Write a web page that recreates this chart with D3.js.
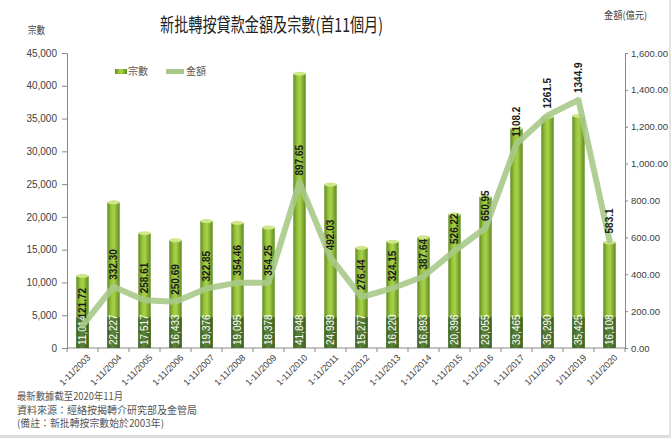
<!DOCTYPE html>
<html><head><meta charset="utf-8">
<script src="https://cdn.jsdelivr.net/npm/d3@7"></script>
<style>
html,body{margin:0;padding:0;background:#fff;}
svg{display:block;font-family:"Liberation Sans","DejaVu Sans",sans-serif;}
</style></head><body>
<script>
const categories = ["1-11/2003","1-11/2004","1-11/2005","1-11/2006","1-11/2007","1-11/2008","1-11/2009","1-11/2010","1-11/2011","1-11/2012","1-11/2013","1-11/2014","1-11/2015","1-11/2016","1-11/2017","1/11/2018","1/11/2019","1/11/2020"];
const counts = [11014,22227,17517,16433,19376,19095,18378,41848,24939,15277,16220,16893,20396,23055,33465,35290,35425,16108];
const amounts = [121.72,332.30,258.61,250.69,322.85,354.46,354.25,897.65,492.03,276.44,324.15,387.64,526.22,650.95,1108.2,1261.5,1344.9,583.1];
const amountLabels = ["121.72","332.30","258.61","250.69","322.85","354.46","354.25","897.65","492.03","276.44","324.15","387.64","526.22","650.95","1108.2","1261.5","1344.9","583.1"];
const leftTicks = [0,5000,10000,15000,20000,25000,30000,35000,40000,45000];
const rightTicks = [0,200,400,600,800,1000,1200,1400,1600];
const title = "新批轉按貸款金額及宗數(首11個月)";
const notes = ["最新數據截至2020年11月","資料來源：經絡按揭轉介研究部及金管局","(備註：新批轉按宗數始於2003年)"];
const noteWidths = [106,180,147];

const W = 671, H = 438;
const m = {left:67, right:625, top:53, bottom:348};
const cjk = "'Noto Sans CJK TC','Noto Sans CJK SC',sans-serif";
const svg = d3.select("body").append("svg").attr("width",W).attr("height",H);

const defs = svg.append("defs");
const g1 = defs.append("linearGradient").attr("id","barG").attr("x1",0).attr("x2",1).attr("y1",0).attr("y2",0);
[[0,"#5f8c1e"],[0.35,"#9cc83e"],[0.55,"#a8d04a"],[1,"#5c8a1c"]].forEach(s=>g1.append("stop").attr("offset",s[0]).attr("stop-color",s[1]));
const g2 = defs.append("linearGradient").attr("id","barD").attr("x1",0).attr("x2",1).attr("y1",0).attr("y2",0);
[[0,"#3f6325"],[0.45,"#5a8238"],[1,"#3c5f22"]].forEach(s=>g2.append("stop").attr("offset",s[0]).attr("stop-color",s[1]));

// border strips
svg.append("rect").attr("x",0).attr("y",435).attr("width",W).attr("height",3).attr("fill","#dcdcdc");
svg.append("rect").attr("x",669).attr("y",0).attr("width",2).attr("height",H).attr("fill","#e4e4e4");

const x = d3.scaleBand().domain(categories).range([m.left,m.right]).paddingInner(0.6).paddingOuter(0.3);
const xc = d3.scalePoint().domain(categories).range([m.left,m.right]).padding(0.5);
const yL = d3.scaleLinear().domain([0,45000]).range([m.bottom,m.top]);
const yR = d3.scaleLinear().domain([0,1600]).range([m.bottom,m.top]);

// axes
const axL = d3.axisLeft(yL).tickValues(leftTicks).tickFormat(d3.format(",")).tickSize(5).tickPadding(5);
const gL = svg.append("g").attr("transform",`translate(${m.left},0)`).call(axL);
const axR = d3.axisRight(yR).tickValues(rightTicks).tickFormat(d3.format(",.2f")).tickSize(3).tickPadding(3);
const gR = svg.append("g").attr("transform",`translate(${m.right},0)`).call(axR);
const axB = d3.axisBottom(xc).tickSize(0).tickFormat(d=>d);
const gB = svg.append("g").attr("transform",`translate(0,${m.bottom})`).call(axB);
// category boundary ticks
const step = (m.right-m.left)/categories.length;
svg.append("g").selectAll("line").data(d3.range(categories.length+1)).join("line")
  .attr("x1",i=>m.left+i*step).attr("x2",i=>m.left+i*step).attr("y1",m.bottom).attr("y2",m.bottom+4)
  .attr("stroke","#888");
[gL,gR,gB].forEach(g=>{
  g.select(".domain").attr("stroke","#888");
  g.selectAll(".tick line").attr("stroke","#888");
  g.selectAll("text").attr("fill","#404040").attr("font-size",10);
});
gR.selectAll("text").attr("font-size",9.5);
gB.select(".domain").attr("d",`M${m.left},0H${m.right}`);
gB.selectAll("text").attr("text-anchor","end").attr("dy",0).attr("dx",0).attr("font-size",9)
  .attr("transform","translate(6,8) rotate(-45)");

// bars
const bars = svg.append("g");
counts.forEach((v,i)=>{
  const c = categories[i];
  const bx = x(c), bw = x.bandwidth();
  const top = yL(v);
  bars.append("rect").attr("x",bx).attr("y",top).attr("width",bw).attr("height",m.bottom-top).attr("fill","url(#barG)");
  bars.append("ellipse").attr("cx",bx+bw/2).attr("cy",top).attr("rx",bw/2).attr("ry",2).attr("fill","#cfe68a");
  const dTop = yL(5000)+2;
  bars.append("rect").attr("x",bx).attr("y",dTop).attr("width",bw).attr("height",m.bottom-dTop).attr("fill","url(#barD)");
  bars.append("text").attr("transform",`translate(${bx+bw/2+3.5},${m.bottom-3}) rotate(-90)`)
    .attr("font-size",10).attr("fill","#fff").attr("text-anchor","start").text(d3.format(",")(v));
});

// line
const line = d3.line().x((d,i)=>xc(categories[i])).y(d=>yR(d));
svg.append("path").datum(amounts).attr("d",line).attr("fill","none")
  .attr("stroke","#a9c98a").attr("stroke-opacity",0.9).attr("stroke-width",6)
  .attr("stroke-linejoin","round").attr("stroke-linecap","round");

// line labels
svg.append("g").selectAll("text").data(amounts).join("text")
  .attr("transform",(d,i)=>`translate(${xc(categories[i])+3.5},${yR(d)-7}) rotate(-90)`)
  .attr("font-size",10).attr("font-weight","bold").attr("fill","#1a1a1a").attr("text-anchor","start")
  .text((d,i)=>amountLabels[i]);

// titles
svg.append("text").attr("x",160).attr("y",32).attr("textLength",223).attr("lengthAdjust","spacingAndGlyphs")
  .attr("font-family",cjk).attr("font-size",19).attr("fill","#222").text(title);
svg.append("text").attr("x",28).attr("y",34).attr("textLength",17).attr("lengthAdjust","spacingAndGlyphs")
  .attr("font-family",cjk).attr("font-size",10).attr("fill","#404040").text("宗數");
svg.append("text").attr("x",604).attr("y",19).attr("textLength",43).attr("lengthAdjust","spacingAndGlyphs")
  .attr("font-family",cjk).attr("font-size",10).attr("fill","#404040").text("金額(億元)");

// legend
const lg = svg.append("g");
lg.append("rect").attr("x",115).attr("y",69).attr("width",12).attr("height",5).attr("fill","url(#barG)");
lg.append("text").attr("x",128).attr("y",75).attr("font-family",cjk).attr("font-size",10).attr("fill","#555").text("宗數");
lg.append("line").attr("x1",166).attr("x2",184).attr("y1",71.5).attr("y2",71.5).attr("stroke","#a9c98a").attr("stroke-width",5);
lg.append("text").attr("x",186).attr("y",75).attr("font-family",cjk).attr("font-size",10).attr("fill","#555").text("金額");

// notes
svg.append("g").selectAll("text").data(notes).join("text")
  .attr("x",17).attr("y",(d,i)=>400+i*13.5).attr("font-family",cjk)
  .attr("textLength",(d,i)=>noteWidths[i]).attr("lengthAdjust","spacingAndGlyphs")
  .attr("font-size",10).attr("fill","#555").text(d=>d);
</script>
</body></html>
